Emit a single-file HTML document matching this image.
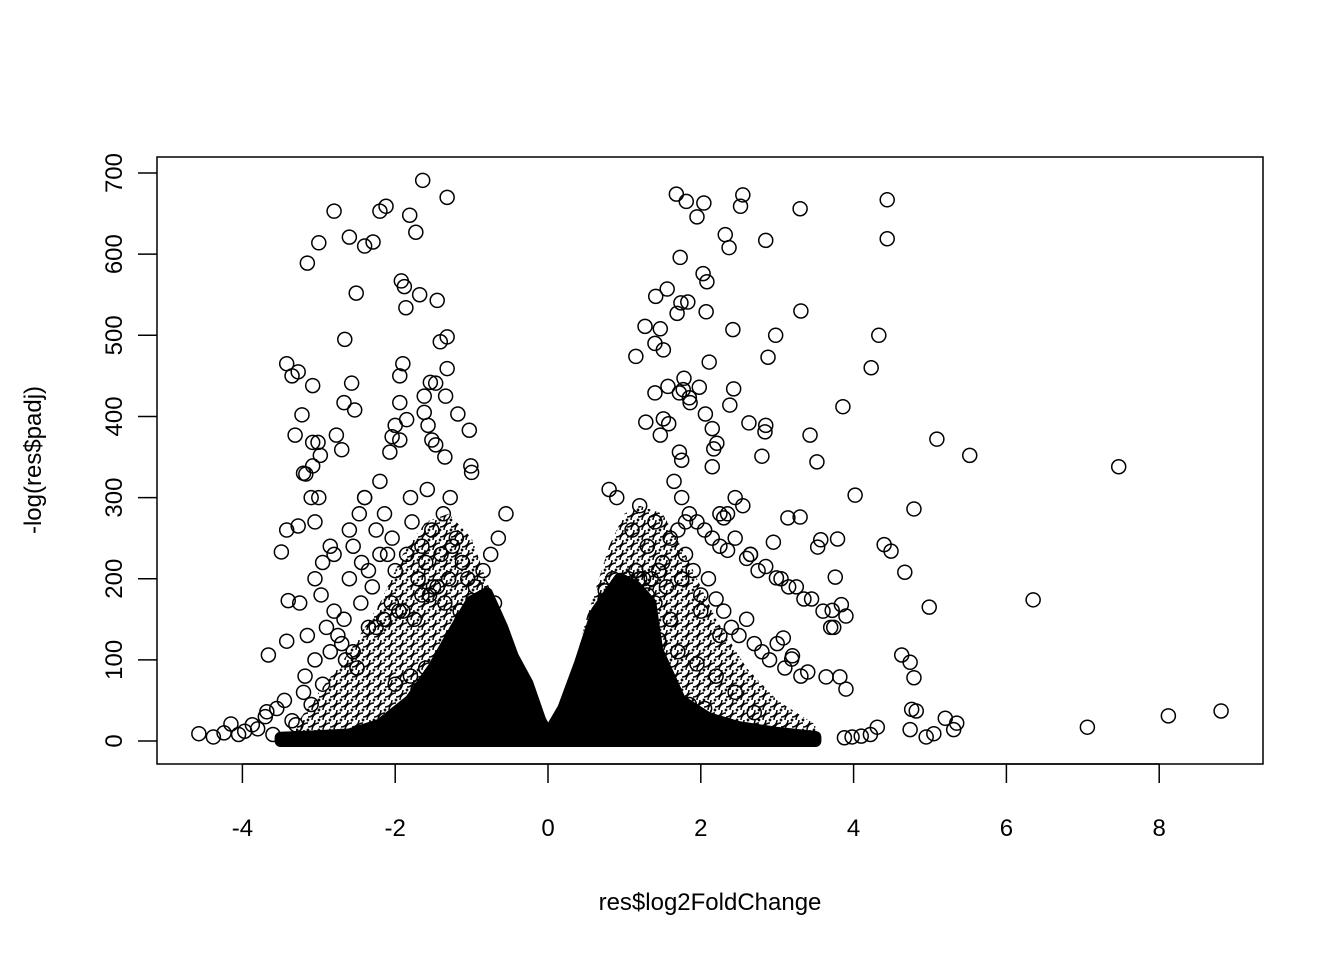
<!DOCTYPE html>
<html><head><meta charset="utf-8"><style>
html,body{margin:0;padding:0;background:#fff;}
svg{display:block;font-family:"Liberation Sans",Arial,sans-serif;}
</style></head><body>
<svg id="chart" width="1344" height="960" viewBox="0 0 1344 960" xmlns="http://www.w3.org/2000/svg">
<defs>
<pattern id="rings" patternUnits="userSpaceOnUse" width="11" height="10">
<rect width="11" height="10" fill="#fff"/>
<circle cx="5.5" cy="5" r="7" fill="none" stroke="#000" stroke-width="1.5"/>
<circle cx="0" cy="0" r="7" fill="none" stroke="#000" stroke-width="1.5"/>
<circle cx="11" cy="10" r="7" fill="none" stroke="#000" stroke-width="1.5"/>
</pattern>
</defs>
<rect x="0" y="0" width="1344" height="960" fill="#fff"/>
<g id="dense"></g>
<g id="pts" fill="none" stroke="#000" stroke-width="1.5"></g>
<rect x="157" y="157" width="1106" height="607" fill="none" stroke="#000" stroke-width="1.5"/>
<g id="xaxis"></g>
<g id="yaxis"></g>
<text x="710" y="910" font-size="24" text-anchor="middle">res$log2FoldChange</text>
<text transform="translate(41,460) rotate(-90)" font-size="24" text-anchor="middle">-log(res$padj)</text>
</svg>
<script>
const xTicks=[-4,-2,0,2,4,6,8];
const yTicks=[0,100,200,300,400,500,600,700];
// dense core envelopes (upper edge of solid mass)
const leftCoreX=[-3.5,-3.0,-2.6,-2.2,-1.8,-1.5,-1.2,-1.0,-0.8,-0.6,-0.46,-0.27,-0.1,0];
const leftCoreY=[4,6,8,20,50,90,140,172,182,140,104,71,25,8];
const rightCoreX=[0,0.2,0.42,0.64,0.94,1.15,1.34,1.43,1.73,2.1,2.5,3.0,3.5];
const rightCoreY=[8,40,96,160,200,190,170,112,50,28,17,10,5];
const leftMidX=[-3.3,-3.0,-2.6,-2.2,-1.9,-1.6,-1.3,-1.0,-0.7,-0.4,-0.15];
const leftMidY=[20,60,110,170,230,270,280,250,170,70,15];
const rightMidX=[0.15,0.5,0.8,1.0,1.2,1.5,1.8,2.2,2.6,3.0,3.5];
const rightMidY=[20,150,240,280,290,280,230,150,90,50,20];
// scattered points: log2 fold change / -log(padj)
const lfc=[-1.64,-1.32,-2.80,-2.20,-2.12,-1.81,-1.73,-3.00,-2.60,-2.40,-2.29,-3.15,-1.92,-1.88,-1.68,-2.51,-1.45,-1.86,-2.66,-1.32,-1.41,-3.42,-3.35,-3.27,-3.08,-2.57,-1.90,-1.94,-1.54,-1.47,-1.32,-1.34,-2.67,-2.53,-3.22,-1.94,-1.62,-1.62,-1.85,-1.18,-1.03,-2.00,-1.57,-2.77,-3.31,-3.08,-3.01,-2.04,-1.94,-1.52,-1.47,-2.70,-2.98,-2.07,-1.35,-1.01,-1.00,-3.17,-3.08,
1.68,2.55,1.81,2.04,4.44,3.30,2.52,1.95,2.32,2.37,2.85,4.44,1.73,2.03,2.08,1.56,1.41,1.74,1.83,1.69,2.07,3.31,1.27,1.47,2.42,2.98,4.33,1.40,1.51,1.15,2.88,2.11,4.23,1.78,1.40,1.57,1.98,2.43,1.77,1.72,1.85,1.86,2.38,3.86,2.06,1.51,1.58,1.28,2.15,2.63,2.85,2.84,2.21,2.17,3.43,5.09,5.52,7.47,1.72,1.75,2.80,2.15,3.52,1.47,
4.02,4.79,3.14,3.30,2.30,4.40,4.49,3.53,3.57,3.79,2.99,3.76,4.67,6.35,4.99,3.90,3.72,3.84,3.74,3.08,3.19,4.63,4.74,3.64,3.31,3.82,3.90,4.79,4.76,4.82,5.20,5.35,5.31,5.05,4.95,7.06,8.12,8.81,4.74,4.31,4.22,4.10,3.98,3.88,
-4.57,-4.38,-4.24,-4.15,-4.05,-3.97,-3.87,-3.68,-3.66,-3.49,-3.42,-3.27,-3.40,-3.25,-3.42,-3.55,-3.70,-3.80,-3.60,-3.45,-3.35,-3.20,-3.10,-3.30,-3.18,-3.05,-2.95,
-3.1,-3.05,-2.85,-2.95,-3.05,-2.97,-2.80,-2.67,-2.60,-2.55,-2.47,-2.40,-2.20,-2.14,-2.04,-2.44,-2.25,-1.80,-1.78,-1.65,-1.52,-1.58,-1.37,-1.28,-1.20,-2.35,-2.75,-2.85,-2.45,-2.30,-2.15,-2.00,-1.85,-1.70,-1.60,-1.40,-1.25,-1.12,-1.05,-2.65,-2.50,-2.70,-2.90,-3.15,-2.55,-2.25,-2.05,-1.95,-1.75,-1.55,-1.45,-1.30,-2.35,-2.60,-2.80,-3.0,-3.2,-2.1,-1.9,-1.65,-1.5,-1.35,-1.15,-0.95,-0.85,-0.75,-0.65,-0.55,-2.4,-2.2,-2.0,-1.8,-1.6,-1.4,-1.2,-1.1,-0.9,-0.7,
0.95,1.05,1.15,1.25,1.35,1.45,1.55,1.65,1.75,1.85,1.95,2.05,2.15,2.25,2.35,2.45,2.55,2.65,2.75,0.85,0.75,1.10,1.20,1.30,1.40,1.60,1.70,1.80,1.90,2.00,2.10,2.20,2.30,2.40,2.50,2.60,2.70,2.80,2.90,3.00,3.10,3.20,1.00,1.15,1.35,1.50,1.65,1.85,2.05,2.25,2.45,2.65,2.85,3.05,3.25,3.45,1.25,1.45,1.70,1.95,2.20,2.45,2.70,1.10,1.30,1.50,1.75,2.00,2.25,0.70,0.80,0.90,1.20,1.40,1.60,1.80,2.35,2.60,2.95,3.15,3.35,3.60,3.70,3.40];
const nlp=[691,670,653,653,659,648,627,614,621,610,615,589,567,560,550,552,543,534,495,498,492,465,450,455,438,441,465,450,442,441,459,425,417,408,402,417,425,405,396,403,383,389,389,377,377,368,368,375,371,371,365,359,352,356,350,339,331,329,339,
674,673,665,663,667,656,659,646,624,608,617,619,596,576,566,557,548,540,541,527,529,530,511,508,507,500,500,490,482,474,473,467,460,447,429,437,436,434,433,429,423,417,414,412,403,397,391,393,385,392,389,381,367,360,377,372,352,338,356,346,351,338,344,377,
303,286,275,276,275,242,234,239,248,249,201,202,208,174,165,154,161,168,140,127,101,106,97,79,80,79,64,78,39,37,28,22,14,9,5,17,31,37,14,17,8,6,5,4,
9,5,10,21,8,12,20,36,106,233,260,265,173,170,123,40,30,15,8,50,25,60,45,20,80,100,70,
300,270,240,220,200,180,160,150,200,240,280,300,320,280,250,220,260,300,270,240,260,310,280,300,250,140,130,110,170,190,150,210,230,200,220,230,240,220,200,100,90,120,140,130,110,140,170,160,150,180,190,200,210,260,230,300,330,230,160,180,190,170,160,190,210,230,250,280,300,230,70,80,90,100,120,140,150,170,190,200,210,200,200,210,190,
320,300,280,270,260,250,240,280,300,290,230,210,200,185,190,200,180,170,150,260,270,210,180,200,175,160,140,130,150,120,110,100,120,90,105,80,75,70,60,50,45,40,280,250,230,215,200,190,175,140,125,110,95,80,60,35,260,240,220,200,160,130,100,310,300,290,270,250,230,235,225,245,190,175,160,140,85,70,55,45,35,25,20,30];
const x0=548, xs=76.4, y0=741, ys=0.8114;
function X(v){return x0+v*xs;}
function Y(v){return y0-v*ys;}
const NS='http://www.w3.org/2000/svg';
function mk(t,a,p){const e=document.createElementNS(NS,t);for(const k in a)e.setAttribute(k,a[k]);p.appendChild(e);return e;}
const dense=document.getElementById('dense');
function env(xa,ya,fill,sw,name){
  let d='M'+X(xa[0])+','+Y(0);
  for(let i=0;i<xa.length;i++)d+=' L'+X(xa[i])+','+Y(ya[i]);
  d+=' L'+X(xa[xa.length-1])+','+Y(0)+' Z';
  const p=mk('path',{d:d,fill:fill,stroke:sw>0?fill:'none','stroke-width':sw,'stroke-linejoin':'round'},dense);
  
  
}
env(leftMidX,leftMidY,'url(#rings)',0,'left-cloud');
env(rightMidX,rightMidY,'url(#rings)',0,'right-cloud');
env(leftCoreX,leftCoreY,'#000',12,'left-core');
env(rightCoreX,rightCoreY,'#000',12,'right-core');
const pts=document.getElementById('pts');
for(let i=0;i<lfc.length;i++){
  const c=mk('circle',{cx:X(lfc[i]),cy:Y(nlp[i]),r:7},pts);
  
  
}
const xa=document.getElementById('xaxis');
mk('line',{x1:X(-4),x2:X(8),y1:764,y2:764,stroke:'#000','stroke-width':1.5},xa);
xTicks.forEach(t=>{
  mk('line',{x1:X(t),x2:X(t),y1:764,y2:783,stroke:'#000','stroke-width':1.5},xa);
  const tx=mk('text',{x:X(t),y:836,'font-size':24,'text-anchor':'middle'},xa);
  tx.textContent=t;
  
  
});
const ya=document.getElementById('yaxis');
yTicks.forEach(t=>{
  mk('line',{x1:138,x2:157,y1:Y(t),y2:Y(t),stroke:'#000','stroke-width':1.5},ya);
  const tx=mk('text',{transform:'translate(122,'+Y(t)+') rotate(-90)','font-size':24,'text-anchor':'middle'},ya);
  tx.textContent=t;
  
  
});
</script>
</body></html>
